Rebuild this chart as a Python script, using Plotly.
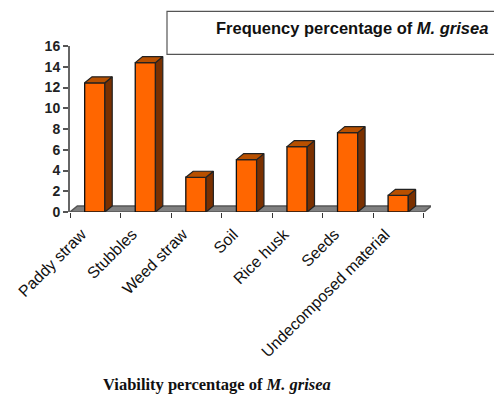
import plotly.graph_objects as go

categories = ["Paddy straw", "Stubbles", "Weed straw", "Soil", "Rice husk", "Seeds", "Undecomposed material"]
frequency = [12.45, 14.4, 3.35, 5.05, 6.3, 7.65, 1.6]
y_ticks = [0, 2, 4, 6, 8, 10, 12, 14, 16]

W, H = 494, 394
L, R, T, B = 70, 431, 45.7, 211.7
XMAX = (R - L) / 50.57
BAR_W = 0.4
DX, DY = 0.145, 0.58
LABEL_SHIFT = 0.27
centers = [i + 0.49 for i in range(len(categories))]


def px(x):
    return (x - L) / (R - L)


def py(y):
    return (B - y) / (B - T)


side_x, side_y, top_x, top_y = [], [], [], []
for c, v in zip(centers, frequency):
    r = c + BAR_W / 2
    l = c - BAR_W / 2
    side_x += [r, r + DX, r + DX, r, r, None]
    side_y += [0, DY, v + DY, v, 0, None]
    top_x += [l, l + DX, r + DX, r, l, None]
    top_y += [v, v + DY, v + DY, v, v, None]

fig = go.Figure()
fig.add_bar(x=centers, y=frequency, width=BAR_W,
            marker=dict(color="#ff6600", line=dict(color="#111111", width=1.3)),
            showlegend=False, hoverinfo="skip")
fig.add_scatter(x=side_x, y=side_y, mode="lines", fill="toself", fillcolor="#7a3000",
                line=dict(color="#222222", width=1.2), showlegend=False, hoverinfo="skip")
fig.add_scatter(x=top_x, y=top_y, mode="lines", fill="toself", fillcolor="#b85000",
                line=dict(color="#222222", width=1.2), showlegend=False, hoverinfo="skip")

n = len(categories)
fig.update_layout(
    width=W, height=H, autosize=False, paper_bgcolor="white", plot_bgcolor="white",
    margin=dict(l=L, r=W - R, t=T, b=H - B, pad=0), showlegend=False,
    xaxis=dict(range=[0, XMAX], showgrid=False, zeroline=False, showline=False,
               tickmode="array", tickvals=[i + 0.5 - LABEL_SHIFT for i in range(n)], ticktext=categories,
               ticks="", tickangle=-45, ticklabelstandoff=9,
               tickfont=dict(family="Liberation Sans", size=16, color="#111111"),
               minor=dict(tickmode="array", tickvals=list(range(n + 1)), ticks="outside",
                          ticklen=5, tickwidth=1, tickcolor="#333333", showgrid=False)),
    yaxis=dict(range=[0, 16], tickmode="array", tickvals=y_ticks, showgrid=False, zeroline=False,
               showline=True, linecolor="#666666", linewidth=2, ticks="outside", ticklen=5,
               tickcolor="#555555", tickwidth=1.5,
               tickfont=dict(family="Liberation Sans", size=14, color="#222222", weight="bold")),
    shapes=[
        dict(type="path", xref="x", yref="y", layer="below",
             path=f"M 0 0 L {DX} {DY} L {n + DX} {DY} L {n} 0 Z",
             fillcolor="#808080", line=dict(color="#555555", width=1.5)),
        dict(type="rect", xref="paper", yref="paper", x0=px(167), x1=px(500), y0=py(54), y1=py(11),
             fillcolor="white", line=dict(color="#555555", width=1.2)),
    ],
    annotations=[
        dict(xref="paper", yref="paper", x=px(214), y=py(28), xanchor="left", yanchor="middle",
             showarrow=False, text="<b>Frequency percentage of <i>M. grisea</i></b>",
             font=dict(family="Liberation Sans", size=16.5, color="#111111")),
        dict(xref="paper", yref="paper", x=px(101), y=py(384), xanchor="left", yanchor="middle",
             showarrow=False, text="<b>Viability percentage of <i>M. grisea</i></b>",
             font=dict(family="Liberation Serif", size=16.5, color="#111111")),
    ],
)
fig.write_html("out.html", config=dict(displayModeBar=False),
               post_script="document.body.style.margin='0';document.documentElement.style.overflow='hidden';")
